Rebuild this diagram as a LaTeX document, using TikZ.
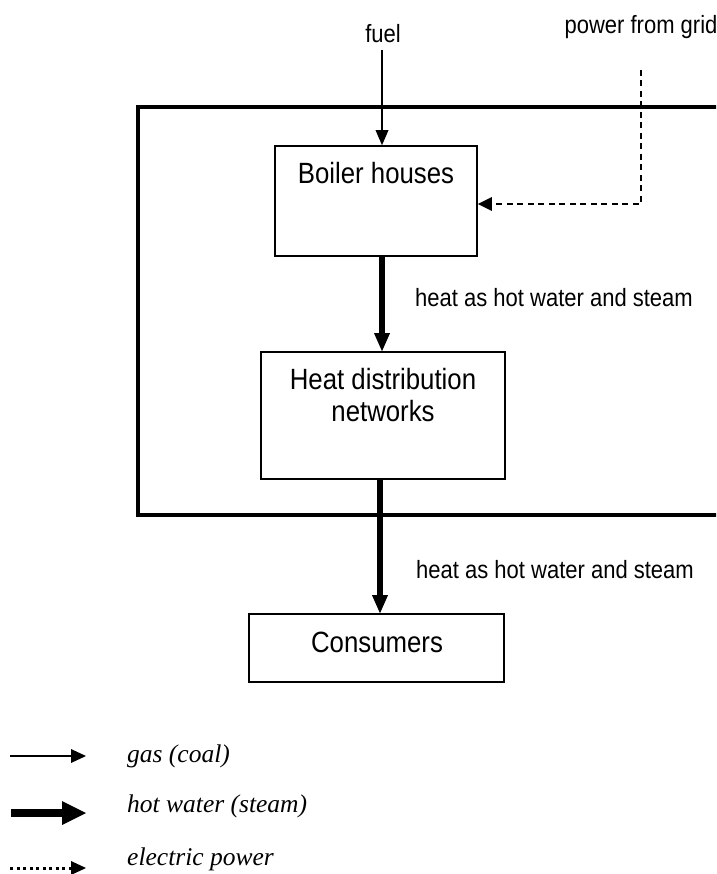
\documentclass[tikz,border=0pt]{standalone}
\usepackage{fontspec}
\setmainfont{Liberation Sans}[FakeStretch=0.88]
\newfontfamily\legendfont{Liberation Serif}
\usetikzlibrary{arrows.meta}

\begin{document}
\begin{tikzpicture}[x=1pt,y=-1pt,
  box/.style={draw, line width=1.6pt, rectangle, inner sep=0pt},
  boxtext/.style={font=\fontsize{29.3}{32}\selectfont, inner sep=0pt, anchor=base},
  flowtext/.style={font=\fontsize{25}{28}\selectfont, inner sep=0pt, anchor=base},
  legendtext/.style={font=\legendfont\itshape\fontsize{25.5}{28}\selectfont, inner sep=0pt, anchor=base west},
  fuelflow/.style={line width=1.1pt, -{Triangle[length=15pt,width=13pt,line width=0pt]}},
  heatflow/.style={line width=6pt, -{Triangle[length=18pt,width=16pt,line width=0pt]}},
  powerflow/.style={line width=1.3pt, dash pattern=on 6pt off 4.5pt, -{Triangle[length=14pt,width=14pt,line width=0pt]}},
  frameline/.style={line width=3.3pt},
  legthin/.style={line width=1.3pt, -{Triangle[length=15pt,width=14pt,line width=0pt]}},
  legthick/.style={line width=8pt, -{Triangle[length=24pt,width=24pt,line width=0pt]}},
  legdotted/.style={line width=3pt, dash pattern=on 3pt off 3.5pt, -{Triangle[length=15pt,width=14pt,line width=0pt]}}
]
\clip (0,0) rectangle (716,874);

% system boundary, open to the right
\draw[frameline] (725,107) -- (138,107) -- (138,515) -- (725,515);

% blocks
\node[box, minimum width=202pt, minimum height=110pt] (boiler) at (376,201) {};
\node[boxtext] (boilerlabel) at (376,184) {Boiler houses};
\node[box, minimum width=244pt, minimum height=127pt] (hdn) at (383,415.5) {};
\node[boxtext] (hdnlabelA) at (383,389) {Heat distribution};
\node[boxtext] (hdnlabelB) at (383,421) {networks};
\node[box, minimum width=255pt, minimum height=68pt] (cons) at (376.5,648) {};
\node[boxtext] (conslabel) at (377,652) {Consumers};

% inputs
\coordinate (fuelsrc) at (382,50);
\coordinate (gridsrc) at (641,70);
\node[flowtext] (fuellabel) at (383,43) {fuel};
\node[flowtext] (gridlabel) at (641,34) {power from grid};
\draw[fuelflow] (fuelsrc) -- (fuelsrc |- boiler.north);
\draw[powerflow] (gridsrc) |- ([yshift=-3pt]boiler.east);

% heat flows
\coordinate (axisA) at (382,0);
\coordinate (axisB) at (380,0);
\draw[heatflow] (boiler.south -| axisA) -- (hdn.north -| axisA);
\draw[heatflow] (hdn.south -| axisB) -- (cons.north -| axisB);
\node[flowtext, anchor=base west] (heatlabelA) at (415,306) {heat as hot water and steam};
\node[flowtext, anchor=base west] (heatlabelB) at (416,578) {heat as hot water and steam};

% legend
\coordinate (legAs) at (10,756);  \coordinate (legAe) at (86,756);
\coordinate (legBs) at (11,813);  \coordinate (legBe) at (86,813);
\coordinate (legCs) at (10,868);  \coordinate (legCe) at (86,868);
\draw[legthin] (legAs) -- (legAe);
\draw[legthick] (legBs) -- (legBe);
\draw[legdotted] (legCs) -- (legCe);
\node[legendtext] (legAtext) at (127,762) {gas (coal)};
\node[legendtext] (legBtext) at (127,812) {hot water (steam)};
\node[legendtext] (legCtext) at (127,865) {electric power};
\end{tikzpicture}
\end{document}
